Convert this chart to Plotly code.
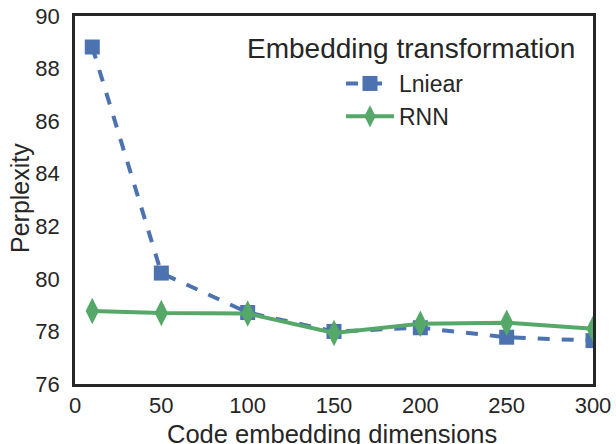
import plotly.graph_objects as go

dims = [10, 50, 100, 150, 200, 250, 300]
linear = [88.82, 80.22, 78.72, 78.0, 78.14, 77.78, 77.65]
rnn = [78.78, 78.70, 78.68, 77.94, 78.29, 78.33, 78.10]
legend_title = "Embedding transformation"
x_title = "Code embedding dimensions"
y_title = "Perplexity"

font = "Liberation Sans, Arial, sans-serif"
L, R, T, B = 75, 23, 16, 60
W, H = 616, 444
pw, ph = W - L - R, H - T - B

def px(x):
    return (x - L) / pw

def py(y):
    return (H - B - y) / ph

fig = go.Figure()
fig.add_trace(go.Scatter(x=dims, y=linear, name="Lniear", mode="lines+markers",
                         line=dict(color="#4C72B0", width=4, dash="dash"),
                         marker=dict(symbol="square", size=15, color="#4C72B0")))
fig.add_trace(go.Scatter(x=dims, y=rnn, name="RNN", mode="lines+markers",
                         line=dict(color="#55A868", width=4),
                         marker=dict(symbol="diamond-tall", size=19, color="#55A868")))

fig.add_annotation(text=legend_title, xref="paper", yref="paper",
                   x=px(411), y=py(48), xanchor="center", yanchor="middle",
                   showarrow=False, font=dict(size=28, color="#262626"))
fig.add_annotation(text=x_title, xref="paper", yref="paper",
                   x=px(332), y=py(434), xanchor="center", yanchor="middle",
                   showarrow=False, font=dict(size=25.5, color="#262626"))
fig.add_annotation(text=y_title, xref="paper", yref="paper",
                   x=px(20), y=py(198), xanchor="center", yanchor="middle", textangle=-90,
                   showarrow=False, font=dict(size=25, color="#262626"))

fig.update_layout(
    width=W, height=H,
    margin=dict(l=L, r=R, t=T, b=B),
    paper_bgcolor="white", plot_bgcolor="white",
    font=dict(family=font, size=22, color="#262626"),
    xaxis=dict(range=[0, 300], tickvals=[0, 50, 100, 150, 200, 250, 300],
               showgrid=False, zeroline=False, showline=True, mirror=True,
               linecolor="#262626", linewidth=2.5, automargin=False, ticks=""),
    yaxis=dict(range=[76, 90], tickvals=[76, 78, 80, 82, 84, 86, 88, 90],
               showgrid=False, zeroline=False, showline=True, mirror=True,
               linecolor="#262626", linewidth=2.5, automargin=False,
               ticks="outside", ticklen=8, tickcolor="rgba(0,0,0,0)"),
    legend=dict(x=px(341), y=py(62), xanchor="left", yanchor="top",
                bgcolor="rgba(0,0,0,0)", font=dict(size=23), itemwidth=48),
)
fig.write_html("out.html")
